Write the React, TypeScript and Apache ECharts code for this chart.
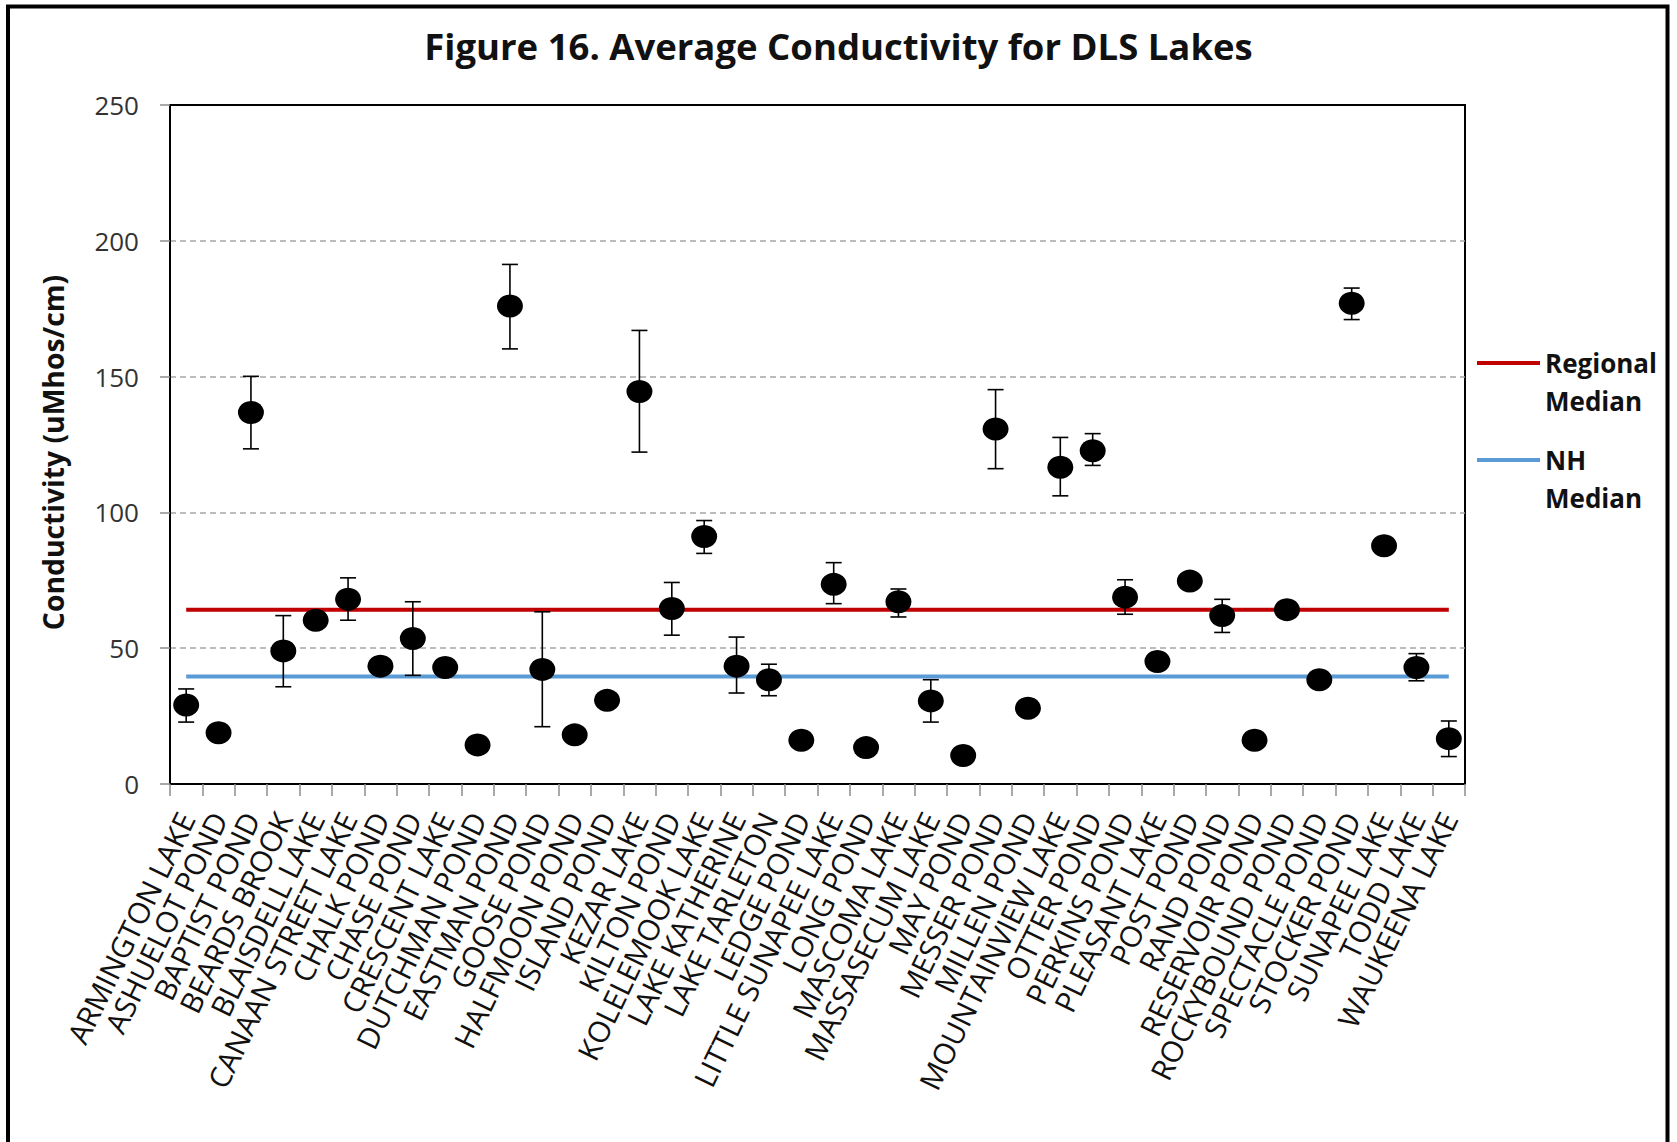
import React, { useEffect, useRef } from "react";
import * as echarts from "echarts";

const categories: string[] = [
  "ARMINGTON LAKE", "ASHUELOT POND", "BAPTIST POND", "BEARDS BROOK", "BLAISDELL LAKE",
  "CANAAN STREET LAKE", "CHALK POND", "CHASE POND", "CRESCENT LAKE", "DUTCHMAN POND",
  "EASTMAN POND", "GOOSE POND", "HALFMOON POND", "ISLAND POND", "KEZAR LAKE",
  "KILTON POND", "KOLELEMOOK LAKE", "LAKE KATHERINE", "LAKE TARLETON", "LEDGE POND",
  "LITTLE SUNAPEE LAKE", "LONG POND", "MASCOMA LAKE", "MASSASECUM LAKE", "MAY POND",
  "MESSER POND", "MILLEN POND", "MOUNTAINVIEW LAKE", "OTTER POND", "PERKINS POND",
  "PLEASANT LAKE", "POST POND", "RAND POND", "RESERVOIR POND", "ROCKYBOUND POND",
  "SPECTACLE POND", "STOCKER POND", "SUNAPEE LAKE", "TODD LAKE", "WAUKEENA LAKE",
];

const meanConductivity: number[] = [
  29.1, 18.9, 136.8, 49.0, 60.3, 68.0, 43.4, 53.6, 42.9, 14.4,
  176.0, 42.2, 18.1, 30.8, 144.5, 64.6, 91.1, 43.4, 38.4, 16.1,
  73.5, 13.4, 67.1, 30.6, 10.5, 130.7, 27.9, 116.6, 122.7, 68.8,
  45.1, 74.7, 62.0, 16.1, 64.2, 38.4, 177.0, 87.7, 42.9, 16.7,
];

// lower / upper ends of error bars (null = no bar)
const errorLow: (number | null)[] = [
  22.8, null, 123.4, 35.8, null, 60.3, null, 40.0, null, null,
  160.2, 21.1, null, null, 122.2, 54.8, 84.9, 33.5, 32.5, null,
  66.4, null, 61.5, 22.8, null, 116.1, null, 106.1, 117.3, 62.5,
  null, null, 55.8, null, null, null, 171.0, null, 38.0, 10.1,
];
const errorHigh: (number | null)[] = [
  35.0, null, 150.1, 62.0, null, 75.9, null, 67.1, null, null,
  191.3, 63.4, null, null, 167.0, 74.2, 97.0, 54.1, 44.1, null,
  81.5, null, 71.8, 38.4, null, 145.2, null, 127.6, 129.0, 75.2,
  null, null, 68.0, null, null, null, 182.6, null, 48.0, 23.2,
];

const REGIONAL_MEDIAN = 64.2;
const NH_MEDIAN = 39.6;

const yTicks = { min: 0, max: 250, interval: 50 };

const FONT = "'Open Sans', 'Noto Sans', sans-serif";

export default function App() {
  const ref = useRef<HTMLDivElement>(null);

  useEffect(() => {
    if (!ref.current) return;
    const chart = echarts.init(ref.current, null, { renderer: "svg" });

    const errData: number[][] = [];
    categories.forEach((_, i) => {
      const lo = errorLow[i];
      const hi = errorHigh[i];
      if (lo !== null && hi !== null) errData.push([i, lo, hi]);
    });

    const barStyle = { stroke: "#000", lineWidth: 1.6 };

    const option: any = {
      animation: false,
      backgroundColor: "#ffffff",
      title: {
        text: "Figure 16. Average Conductivity for DLS Lakes",
        left: "center",
        top: 22,
        textStyle: { fontFamily: FONT, fontWeight: "bold", fontSize: 36.5, color: "#111" },
      },
      grid: {
        left: 170,
        right: 212,
        top: 105,
        bottom: 358,
        show: true,
        borderColor: "#000",
        borderWidth: 2,
        backgroundColor: "#fff",
      },
      xAxis: {
        type: "category",
        data: categories,
        boundaryGap: true,
        axisLine: { show: true, lineStyle: { color: "#000", width: 2 } },
        axisTick: { show: true, length: 12, lineStyle: { color: "#8c8c8c", width: 1.5 } },
        axisLabel: {
          rotate: 64,
          interval: 0,
          margin: 30,
          fontFamily: FONT,
          fontSize: 29.5,
          color: "#111",
        },
        splitLine: { show: false },
      },
      yAxis: {
        type: "value",
        min: yTicks.min,
        max: yTicks.max,
        interval: yTicks.interval,
        name: "Conductivity (uMhos/cm)",
        nameLocation: "middle",
        nameGap: 103,
        nameTextStyle: {
          fontFamily: FONT,
          fontWeight: "bold",
          fontSize: 28.3,
          color: "#111",
          padding: [0, 16, 0, 0],
        },
        axisLine: { show: true, lineStyle: { color: "#000", width: 2 } },
        axisTick: { show: true, length: 10, lineStyle: { color: "#8c8c8c", width: 1.5 } },
        axisLabel: { margin: 31, fontFamily: FONT, fontSize: 26, color: "#333" },
        splitLine: {
          show: true,
          showMinLine: false,
          showMaxLine: false,
          lineStyle: { color: "#a6a6a6", type: [6, 4], width: 1.5 },
        },
      },
      series: [
        {
          name: "Regional Median",
          type: "line",
          data: categories.map(() => REGIONAL_MEDIAN),
          symbol: "none",
          lineStyle: { color: "#C00000", width: 4 },
          z: 2,
        },
        {
          name: "NH Median",
          type: "line",
          data: categories.map(() => NH_MEDIAN),
          symbol: "none",
          lineStyle: { color: "#5B9BD5", width: 4 },
          z: 2,
        },
        {
          name: "Error",
          type: "custom",
          data: errData,
          encode: { x: 0, y: [1, 2] },
          z: 3,
          renderItem: (params: any, api: any) => {
            const idx = api.value(0);
            const pLo = api.coord([idx, api.value(1)]);
            const pHi = api.coord([idx, api.value(2)]);
            const half = 8;
            return {
              type: "group",
              children: [
                { type: "line", shape: { x1: pHi[0], y1: pHi[1], x2: pLo[0], y2: pLo[1] }, style: barStyle },
                { type: "line", shape: { x1: pHi[0] - half, y1: pHi[1], x2: pHi[0] + half, y2: pHi[1] }, style: barStyle },
                { type: "line", shape: { x1: pLo[0] - half, y1: pLo[1], x2: pLo[0] + half, y2: pLo[1] }, style: barStyle },
              ],
            };
          },
        },
        {
          name: "Average Conductivity",
          type: "scatter",
          data: meanConductivity,
          symbol: "circle",
          symbolSize: [26, 23],
          itemStyle: { color: "#000", opacity: 1 },
          z: 4,
        },
      ],
      graphic: [
        {
          type: "rect",
          shape: { x: 8, y: 6.5, width: 1659.5, height: 1300 },
          style: { fill: "none", stroke: "#000", lineWidth: 4 },
          silent: true,
        },
        {
          type: "line",
          shape: { x1: 1477, y1: 363, x2: 1540, y2: 363 },
          style: { stroke: "#C00000", lineWidth: 4 },
        },
        {
          type: "text",
          x: 1545,
          y: 363,
          style: { text: "Regional", fontFamily: FONT, fontWeight: "bold", fontSize: 26, fill: "#111", verticalAlign: "middle" },
        },
        {
          type: "text",
          x: 1545,
          y: 401,
          style: { text: "Median", fontFamily: FONT, fontWeight: "bold", fontSize: 26, fill: "#111", verticalAlign: "middle" },
        },
        {
          type: "line",
          shape: { x1: 1477, y1: 460, x2: 1540, y2: 460 },
          style: { stroke: "#5B9BD5", lineWidth: 4 },
        },
        {
          type: "text",
          x: 1545,
          y: 460,
          style: { text: "NH", fontFamily: FONT, fontWeight: "bold", fontSize: 26, fill: "#111", verticalAlign: "middle" },
        },
        {
          type: "text",
          x: 1545,
          y: 498,
          style: { text: "Median", fontFamily: FONT, fontWeight: "bold", fontSize: 26, fill: "#111", verticalAlign: "middle" },
        },
      ],
    };

    chart.setOption(option);
    return () => chart.dispose();
  }, []);

  return (
    <div
      ref={ref}
      style={{ position: "absolute", left: 0, top: 0, width: 1677, height: 1142, background: "#fff" }}
    />
  );
}
